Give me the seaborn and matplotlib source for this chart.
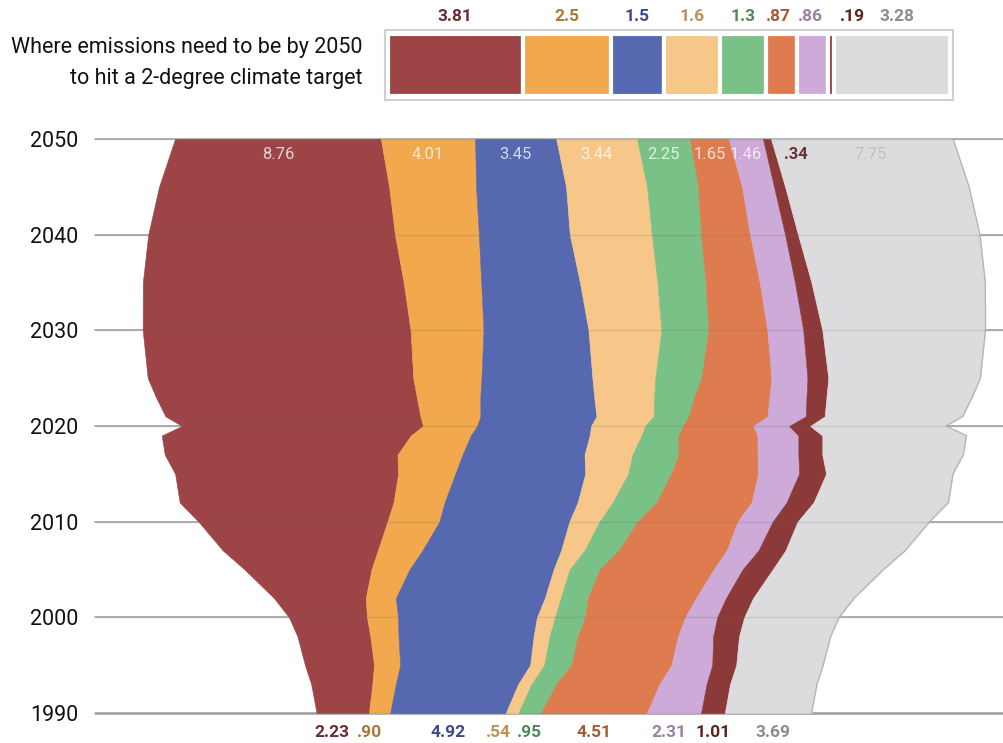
import numpy as np
import matplotlib
matplotlib.use("Agg")
import matplotlib.pyplot as plt
import matplotlib.transforms as mtransforms
import seaborn as sns

# emissions by sector
years = [1990, 1993, 1995, 1998, 2000, 2002, 2005, 2007, 2010, 2012, 2015,
         2017, 2019, 2020, 2021, 2023, 2025, 2030, 2035, 2040, 2045, 2050]

s_red = [2.23, 2.6, 2.94, 3.1, 3.32, 3.9, 5.4, 6.6, 8.04, 9.1, 9.49,
         9.9, 10.6, 10.26, 10.85, 11.1, 11.3, 11.4, 11.1, 10.5, 9.79, 8.76]
s_orange = [0.90, 1.0, 1.11, 1.2, 1.32, 1.28, 1.62, 1.9, 2.21, 2.17, 2.43,
            2.77, 2.55, 2.3, 2.55, 2.7, 2.9, 3.1, 3.3, 3.57, 3.7, 4.01]
s_blue = [4.92, 5.2, 5.53, 5.75, 5.91, 6.34, 6.13, 5.9, 5.53, 5.66, 5.53,
          5.19, 5.06, 4.85, 4.94, 4.85, 4.72, 4.47, 4.2, 3.87, 3.83, 3.45]
s_lightorange = [0.54, 0.57, 0.6, 0.68, 0.77, 0.68, 0.68, 1.0, 1.28, 1.49, 1.83,
                 2.04, 2.21, 2.3, 2.43, 2.55, 2.68, 3.1, 3.3, 3.49, 3.45, 3.44]
s_green = [0.95, 1.05, 1.15, 1.2, 1.28, 1.15, 1.28, 1.45, 1.62, 1.87, 1.83,
           1.96, 1.57, 1.62, 1.49, 1.7, 1.96, 2.0, 2.05, 2.09, 2.17, 2.25]
s_orange2 = [4.51, 4.4, 4.26, 4.26, 4.26, 4.6, 4.85, 4.6, 4.26, 4.04, 3.7,
             3.36, 3.36, 2.98, 3.36, 3.2, 2.98, 2.51, 2.3, 2.09, 1.87, 1.65]
s_lilac = [2.31, 2.0, 1.74, 1.5, 1.36, 1.28, 1.23, 1.35, 1.49, 1.49, 1.74,
           1.74, 1.74, 1.53, 1.62, 1.58, 1.53, 1.53, 1.5, 1.49, 1.36, 1.46]
s_darkred = [1.01, 1.0, 1.02, 1.1, 1.15, 1.15, 1.28, 1.15, 1.06, 1.15, 1.15,
             1.02, 1.02, 0.89, 0.81, 0.85, 0.89, 0.81, 0.7, 0.55, 0.47, 0.34]
s_gray = [3.69, 3.7, 3.7, 3.9, 4.04, 4.3, 4.72, 5.1, 5.62, 5.74, 5.4,
          6.0, 6.13, 5.79, 5.87, 6.2, 6.47, 6.94, 7.4, 7.74, 7.83, 7.75]

start_labels = ["2.23", ".90", "4.92", ".54", ".95", "4.51", "2.31", "1.01", "3.69"]
end_labels = ["8.76", "4.01", "3.45", "3.44", "2.25", "1.65", "1.46", ".34", "7.75"]

# 2050 targets (legend bar)
target = [3.81, 2.5, 1.5, 1.6, 1.3, 0.87, 0.86, 0.19, 3.28]
target_labels = ["3.81", "2.5", "1.5", "1.6", "1.3", ".87", ".86", ".19", "3.28"]

colors = ["#9c4446", "#f2a84c", "#5568b0", "#f6c788", "#79c186",
          "#df7c4f", "#cdaad8", "#8c3a39", "#dcdcde"]
dark_colors = ["#6e2b2e", "#a8773c", "#3c4a8c", "#bf8f55", "#4d8a5a",
               "#a55a36", "#9a80a8", "#5a2323", "#8c8c8c"]

sns.set_theme(style="white")
plt.rcParams["font.family"] = ["Roboto", "DejaVu Sans"]

fig = plt.figure(figsize=(10.04, 7.43), dpi=100)
ax = fig.add_axes([0.0946, 0.0404, 0.9054, 0.7726])

series = np.array([s_red, s_orange, s_blue, s_lightorange, s_green,
                   s_orange2, s_lilac, s_darkred, s_gray])
yrs = np.array(years)
total = series.sum(axis=0)
base = -total / 2
tops = base + np.cumsum(series, axis=0)
bottoms = np.vstack([base, tops[:-1]])

for i in range(len(series)):
    ax.fill_betweenx(yrs, bottoms[i], tops[i], color=colors[i],
                     edgecolor=colors[i], lw=0.4, zorder=2)

# thin outline on the grey right edge
ax.plot(tops[-1], yrs, color="#b4b4b4", lw=0.9, zorder=2.5)

for y in range(1990, 2051, 10):
    lw = 1.8 if y == 1990 else 1.1
    ax.axhline(y, color="#9c9c9c", lw=lw, zorder=1, clip_on=False)
    ax.axhline(y, color="#666666", lw=1.0, alpha=0.18, zorder=3)

ax.set_xlim(-19.96, 18.72)
ax.set_ylim(1990, 2050)
ax.set_xticks([])
ax.set_yticks(range(1990, 2051, 10))
ax.tick_params(axis="y", length=0, pad=12, labelsize=15.5, labelcolor="#111111")
sns.despine(ax=ax, left=True, bottom=True)
ax.grid(False)

# labels at 1990, under the axis
trans = mtransforms.blended_transform_factory(ax.transData, ax.transAxes)
start_nudge = [-0.45, -0.45, 0, -0.6, 0, 0, -0.2, 0, 0.2]
for i, lab in enumerate(start_labels):
    xc = (bottoms[i][0] + tops[i][0]) / 2 + start_nudge[i]
    ax.text(xc, -0.034, lab, transform=trans, ha="center", va="center",
            fontsize=12.5, fontweight="bold", color=dark_colors[i], clip_on=False)

# labels at 2050, inside the bands
end_nudge = [0, 0, 0, 0, 0, 0, 0, 1.25, 0.35]
end_colors = ["white"] * 7 + ["#5a2323", "#b9b9b9"]
for i, lab in enumerate(end_labels):
    xc = (bottoms[i][-1] + tops[i][-1]) / 2 + end_nudge[i]
    ax.text(xc, 2048.35, lab, ha="center", va="center", fontsize=12,
            fontweight="bold" if i == 7 else "normal",
            color=end_colors[i], alpha=0.9 if i == 7 else 0.75, zorder=4)

# legend bar of 2050 targets
lax = fig.add_axes([0.3835, 0.8654, 0.5657, 0.0942])
lefts = np.concatenate([[0], np.cumsum(target)[:-1]])
lax.barh(0.5, target, left=lefts, height=0.88, color=colors,
         edgecolor="white", lw=3)
lax.set_xlim(-0.08, sum(target) + 0.08)
lax.set_ylim(0, 1)
lax.set_xticks([])
lax.set_yticks([])
for sp in lax.spines.values():
    sp.set_color("#cfcfcf")
    sp.set_linewidth(1.5)

target_nudge = [0, 0, 0, 0, 0, -0.1, -0.05, 0.6, 0.12]
for i, lab in enumerate(target_labels):
    xc = lefts[i] + target[i] / 2 + target_nudge[i]
    lax.text(xc, 1.2, lab, ha="center", va="center", fontsize=12.5,
             fontweight="bold", color=dark_colors[i], clip_on=False)

fig.text(0.3606, 0.9354, "Where emissions need to be by 2050",
         ha="right", va="center", fontsize=15.5, color="#111111")
fig.text(0.3606, 0.8950, "to hit a 2-degree climate target",
         ha="right", va="center", fontsize=15.5, color="#111111")

fig.savefig("out.png", dpi=100)
